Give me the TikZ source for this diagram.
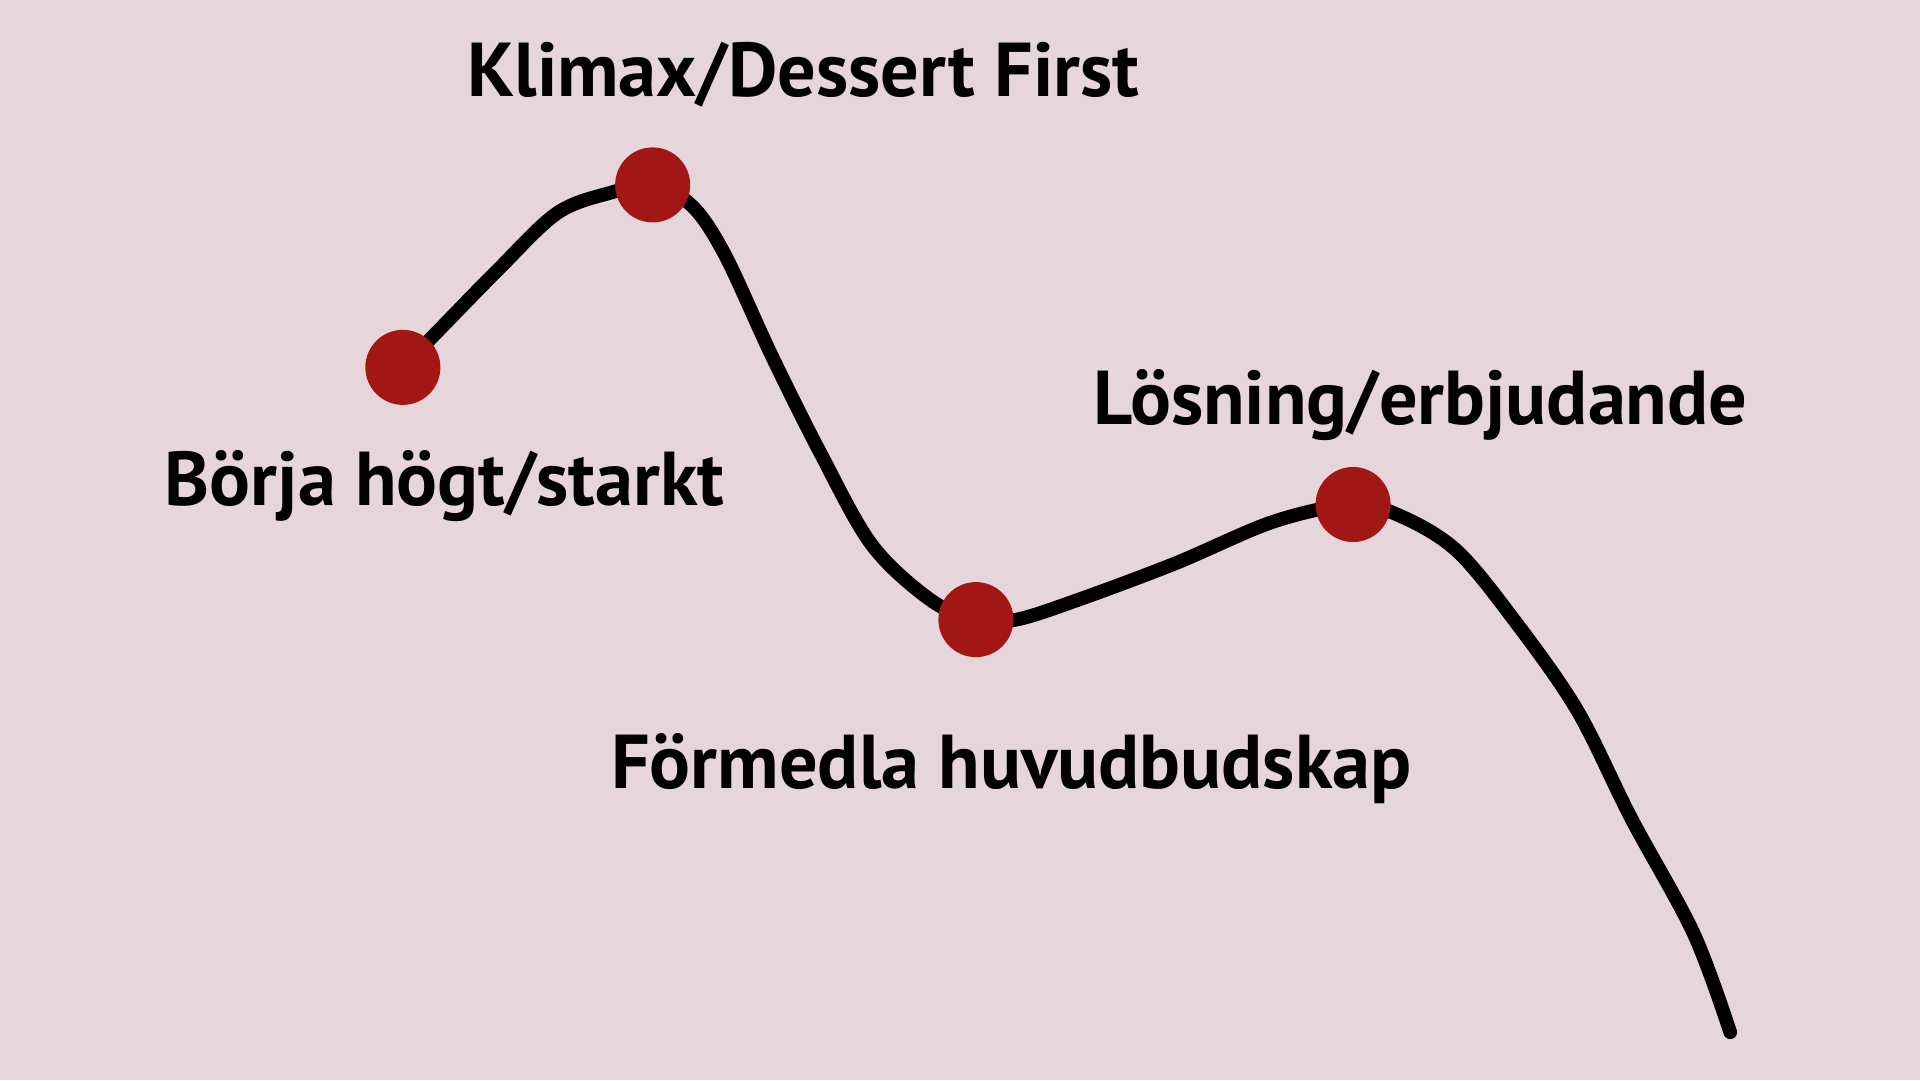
\documentclass[tikz,border=0pt]{standalone}
\usepackage{fontspec}
\setmainfont{PT Sans}
\definecolor{bgc}{HTML}{E6D5DA}
\definecolor{dotc}{HTML}{A31616}
\begin{document}
\begin{tikzpicture}[x=0.012245cm,y=-0.012245cm,
  dotnode/.style={circle,fill=dotc,inner sep=0pt,minimum size=0.75cm},
  lbl/.style={font=\fontsize{21.7}{25}\selectfont\bfseries,text=black,inner sep=0pt},
  curve/.style={line width=3.9pt,line cap=round,line join=round}]
\fill[bgc] (0,0) rectangle (1568,882);
\useasboundingbox (0,0) rectangle (1568,882);
\coordinate (d1) at (329,300);
\coordinate (d2) at (533,151);
\coordinate (d3) at (797,506);
\coordinate (d4) at (1105,412);
\coordinate (e) at (1413,843);
\draw[curve] plot[smooth,tension=0.55] coordinates {(d1) (360,268) (405,222) (455,174) (500,157) (d2) (565,168) (592,208) (630,290) (670,370) (712,445) (760,490) (d3) (830,506) (880,490) (960,460) (1040,426) (d4) (1145,422) (1190,450) (1237,507) (1288,580) (1332,668) (1383,762) (e)};
\node[dotnode] (n1) at (d1) {};
\node[dotnode] (n2) at (d2) {};
\node[dotnode] (n3) at (d3) {};
\node[dotnode] (n4) at (d4) {};
\node[lbl] (t2) at (656,61) {Klimax/Dessert First};
\node[lbl] (t1) at (363,397) {Börja högt/starkt};
\node[lbl] (t4) at (1160,331) {Lösning/erbjudande};
\node[lbl] (t3) at (826,628) {Förmedla huvudbudskap};
\end{tikzpicture}
\end{document}
